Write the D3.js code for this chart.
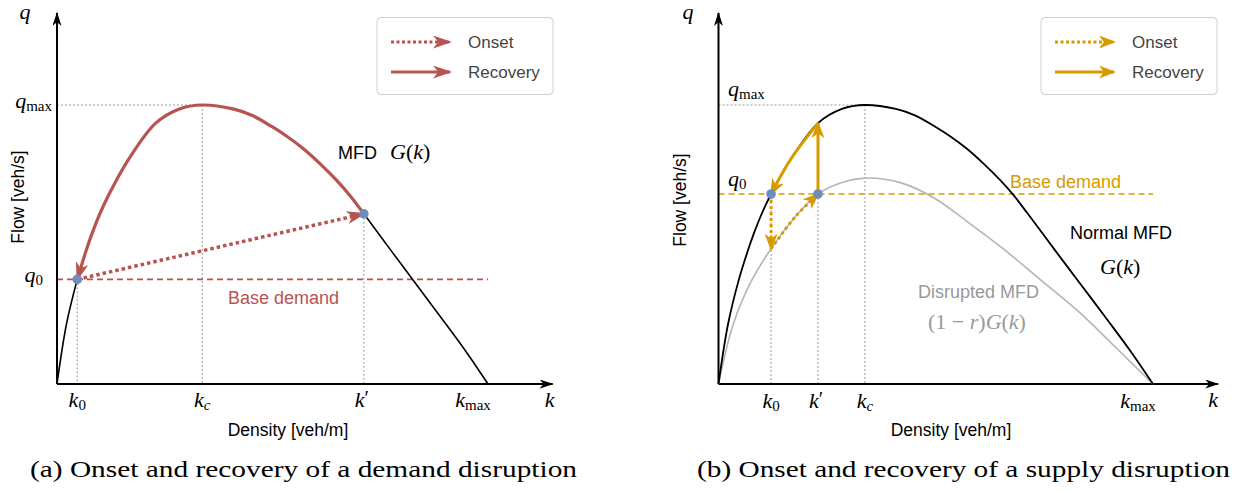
<!DOCTYPE html>
<html>
<head>
<meta charset="utf-8">
<script src="https://cdn.jsdelivr.net/npm/d3@7"></script>
<style>
  body { margin: 0; background: #fff; }
  svg { display: block; }
</style>
</head>
<body>
<svg id="chart" width="1235" height="491"></svg>
<script>
// MFD G(k). k: 0..100 (100 = kmax), q: 0..100 (100 = qmax)
var mfdK = [0, 2.2, 4.7, 6.8, 8.1, 10, 12.1, 16.6, 22.9, 28.4, 33.7, 40.8, 45.2, 49.8, 53.3, 57.1, 61, 65, 68, 71.2, 77.9, 82.6, 89.4, 95, 100];
var mfdQ = [0, 21.5, 37.5, 48, 53.8, 61.2, 68.1, 80.5, 93.5, 98.6, 100, 98.6, 96.3, 92.3, 88.8, 84.4, 79, 72.8, 67.5, 61, 47, 37.3, 23.2, 11.4, 0];

// disrupted MFD (1-r)G(k), right panel
var disK = [0, 3.3, 7.25, 12.1, 17.6, 22.9, 28.4, 33.7, 42.2, 49.8, 57, 65.5, 74, 83.2, 91.5, 100];
var disQ = [0, 21, 36, 48.5, 59.8, 68.1, 72.2, 73.8, 72, 66.5, 58.5, 48.5, 37.5, 25.5, 13, 0];

// points marked on the k axis
var kcVal = 33.7;
var demandK0 = 4.7, demandKp = 71.2, demandQ0 = 37.5;   // panel (a)
var supplyK0 = 12.1, supplyKp = 22.9, supplyQ0 = 68.1;   // panel (b)

var legendItems = ['Onset', 'Recovery'];
var captions = ['(a) Onset and recovery of a demand disruption', '(b) Onset and recovery of a supply disruption'];

var red = '#b85450', orange = '#d79b00', blue = '#6c8ebf', guide = '#9a9a9a';
var sans = '"Liberation Sans", Arial, sans-serif';
var serif = '"Liberation Serif", "Times New Roman", serif';

var mfd = d3.zip(mfdK, mfdQ);
var dis = d3.zip(disK, disQ);
function qAt(arr, k) { return arr.find(function(d) { return d[0] === k; })[1]; }

var svg = d3.select('#chart');
var defs = svg.append('defs');

function addMarker(id, color, len, wid, back) {
    defs.append('marker')
        .attr('id', id)
        .attr('markerUnits', 'userSpaceOnUse')
        .attr('viewBox', '0 0 ' + len + ' ' + wid)
        .attr('markerWidth', len).attr('markerHeight', wid)
        .attr('refX', len - back).attr('refY', wid / 2)
        .attr('orient', 'auto-start-reverse')
        .append('path')
        .attr('d', 'M0,0L' + len + ',' + wid / 2 + 'L0,' + wid + 'L' + len * 0.28 + ',' + wid / 2 + 'Z')
        .attr('fill', color);
}
addMarker('axisHead', '#000', 14, 9, 1);
addMarker('redHead', red, 19, 13, 2);
addMarker('orangeHead', orange, 17, 13, 2);

// shared q scale
var y = d3.scaleLinear().domain([0, 100]).range([384, 105]);
var qEnd = 133, kEnd = 115;

// rich text: parts = [[text, 'i' | 'r']]
function mathText(g, x, yy, parts, size, anchor, color) {
    var t = g.append('text')
        .attr('x', x).attr('y', yy)
        .attr('font-family', serif)
        .attr('font-size', size)
        .attr('fill', color || '#000')
        .attr('text-anchor', anchor || 'start');
    parts.forEach(function(p) {
        var s = t.append('tspan').text(p[0]);
        if (p[1] === 'i') s.attr('font-style', 'italic');
    });
    return t;
}
// symbol with optional subscript; italic subscript when subItalic
function sub(g, x, yy, base, s, anchor, subItalic) {
    var t = g.append('text')
        .attr('x', x).attr('y', yy)
        .attr('font-family', serif)
        .attr('font-size', 22)
        .attr('text-anchor', anchor || 'middle');
    t.append('tspan').attr('font-style', 'italic').text(base);
    if (s) t.append('tspan').attr('font-size', 15).attr('dy', 3)
        .attr('font-style', subItalic ? 'italic' : null).text(s);
    return t;
}

function drawPanel(g, x, k0, kp, q0, qp, color, head, legendX, legendLineX) {
    var line = d3.line()
        .x(function(d) { return x(d[0]); })
        .y(function(d) { return y(d[1]); });
    var curve = d3.line()
        .x(function(d) { return x(d[0]); })
        .y(function(d) { return y(d[1]); })
        .curve(d3.curveCatmullRom.alpha(0.5));

    // dotted guides
    var guides = [
        [[0, 100], [kcVal, 100]],
        [[kcVal, 100], [kcVal, 0]],
        [[k0, q0], [k0, 0]],
        [[kp, qp], [kp, 0]]
    ];
    g.selectAll('.guide').data(guides).enter().append('path')
        .attr('class', 'guide')
        .attr('d', line)
        .attr('fill', 'none')
        .attr('stroke', guide)
        .attr('stroke-width', 1)
        .attr('stroke-dasharray', '2,2');

    // base demand
    g.append('path')
        .attr('d', line([[0, q0], [100, q0]]))
        .attr('stroke', color)
        .attr('stroke-width', 1.6)
        .attr('stroke-dasharray', '6,4')
        .attr('fill', 'none');

    // axes
    g.append('path')
        .attr('d', line([[0, 0], [kEnd, 0]]))
        .attr('stroke', '#000').attr('stroke-width', 2)
        .attr('marker-end', 'url(#axisHead)');
    g.append('path')
        .attr('d', line([[0, 0], [0, qEnd]]))
        .attr('stroke', '#000').attr('stroke-width', 2)
        .attr('marker-end', 'url(#axisHead)');

    // legend
    var lg = g.append('g');
    lg.append('rect')
        .attr('x', legendX).attr('y', 17.5)
        .attr('width', 176).attr('height', 77)
        .attr('rx', 4)
        .attr('fill', '#fff')
        .attr('stroke', '#cfcfcf');
    legendItems.forEach(function(name, i) {
        var ly = 42 + i * 30;
        lg.append('line')
            .attr('x1', legendLineX).attr('x2', legendLineX + 59)
            .attr('y1', ly).attr('y2', ly)
            .attr('stroke', color)
            .attr('stroke-width', 3)
            .attr('stroke-dasharray', i === 0 ? '3,2.5' : null)
            .attr('marker-end', 'url(#' + head + ')');
        lg.append('text')
            .attr('x', legendLineX + 77).attr('y', ly + 6)
            .attr('font-family', sans)
            .attr('font-size', 17)
            .attr('fill', '#444')
            .text(name);
    });

    return { line: line, curve: curve };
}

// ---------- panel (a): demand disruption ----------
var xA = d3.scaleLinear().domain([0, 100]).range([57, 488]);
var gA = svg.append('g');
var qpA = qAt(mfd, demandKp);
var pa = drawPanel(gA, xA, demandK0, demandKp, demandQ0, qpA, red, 'redHead', 377, 391);

// black MFD outside the red part
gA.append('path')
    .attr('d', pa.curve(mfd.filter(function(d) { return d[0] <= demandK0; })))
    .attr('fill', 'none').attr('stroke', '#000').attr('stroke-width', 1.6);
gA.append('path')
    .attr('d', pa.curve(mfd.filter(function(d) { return d[0] >= demandKp; })))
    .attr('fill', 'none').attr('stroke', '#000').attr('stroke-width', 1.6);

// recovery: back along the MFD to k0
gA.append('path')
    .attr('d', pa.curve(mfd.filter(function(d) { return d[0] >= demandK0 && d[0] <= demandKp; })))
    .attr('fill', 'none')
    .attr('stroke', red)
    .attr('stroke-width', 3.2)
    .attr('marker-start', 'url(#redHead)');

// onset: straight jump to k'
gA.append('path')
    .attr('d', pa.line([[demandK0, demandQ0], [demandKp, qpA]]))
    .attr('fill', 'none')
    .attr('stroke', red)
    .attr('stroke-width', 3.5)
    .attr('stroke-dasharray', '3.5,3')
    .attr('marker-end', 'url(#redHead)');

gA.selectAll('.dot').data([[demandK0, demandQ0], [demandKp, qpA]]).enter().append('circle')
    .attr('cx', function(d) { return xA(d[0]); })
    .attr('cy', function(d) { return y(d[1]); })
    .attr('r', 4.8)
    .attr('fill', blue);

// labels (a)
sub(gA, xA(demandK0), 407, 'k', '0');
sub(gA, xA(kcVal), 407, 'k', 'c', 'middle', true);
sub(gA, xA(demandKp) - 2, 407, 'k', null).append('tspan').attr('font-size', 20).attr('dy', -2).text('\u2032');
sub(gA, xA(100) - 15, 407, 'k', 'max');
sub(gA, xA(kEnd) - 3, 407, 'k', null);
sub(gA, 52, y(100) + 3, 'q', 'max', 'end');
sub(gA, 43, y(demandQ0) + 3, 'q', '0', 'end');
sub(gA, 25, 19, 'q', null);

gA.append('text')
    .attr('x', 18).attr('y', 197)
    .attr('transform', 'rotate(-90,18,197)')
    .attr('text-anchor', 'middle')
    .attr('dy', 6)
    .attr('font-family', sans).attr('font-size', 17.5)
    .text('Flow [veh/s]');
gA.append('text')
    .attr('x', 288).attr('y', 436)
    .attr('text-anchor', 'middle')
    .attr('font-family', sans).attr('font-size', 17.5)
    .text('Density [veh/m]');
gA.append('text')
    .attr('x', 228).attr('y', 304)
    .attr('font-family', sans).attr('font-size', 18)
    .attr('fill', red)
    .text('Base demand');
gA.append('text')
    .attr('x', 338).attr('y', 159)
    .attr('font-family', sans).attr('font-size', 18)
    .text('MFD');
mathText(gA, 390, 159, [['G', 'i'], ['(', 'r'], ['k', 'i'], [')', 'r']], 22);

// ---------- panel (b): supply disruption ----------
var xB = d3.scaleLinear().domain([0, 100]).range([718.5, 1153]);
var gB = svg.append('g');
var qpB = qAt(mfd, supplyKp);
var qdB = qAt(dis, supplyK0);
var pb = drawPanel(gB, xB, supplyK0, supplyKp, supplyQ0, supplyQ0, orange, 'orangeHead', 1041, 1055);

gB.append('path')
    .attr('d', pb.curve(dis))
    .attr('fill', 'none').attr('stroke', '#b5b5b5').attr('stroke-width', 1.6);
gB.append('path')
    .attr('d', pb.curve(mfd))
    .attr('fill', 'none').attr('stroke', '#000').attr('stroke-width', 1.8);

// onset: drop onto the disrupted MFD, then slide to k'
gB.append('path')
    .attr('d', pb.line([[supplyK0, supplyQ0], [supplyK0, qdB]]))
    .attr('fill', 'none').attr('stroke', orange)
    .attr('stroke-width', 3).attr('stroke-dasharray', '3,3')
    .attr('marker-end', 'url(#orangeHead)');
gB.append('path')
    .attr('d', pb.curve(dis.filter(function(d) { return d[0] >= supplyK0 && d[0] <= supplyKp; })))
    .attr('fill', 'none').attr('stroke', orange)
    .attr('stroke-width', 3).attr('stroke-dasharray', '3,3')
    .attr('marker-end', 'url(#orangeHead)');

// recovery: jump up to the normal MFD, then back along it to k0
gB.append('path')
    .attr('d', pb.line([[supplyKp, supplyQ0], [supplyKp, qpB]]))
    .attr('fill', 'none').attr('stroke', orange)
    .attr('stroke-width', 3)
    .attr('marker-end', 'url(#orangeHead)');
gB.append('path')
    .attr('d', pb.curve(mfd.filter(function(d) { return d[0] >= supplyK0 && d[0] <= supplyKp; })))
    .attr('fill', 'none').attr('stroke', orange)
    .attr('stroke-width', 3)
    .attr('marker-start', 'url(#orangeHead)');

gB.selectAll('.dot').data([[supplyK0, supplyQ0], [supplyKp, supplyQ0]]).enter().append('circle')
    .attr('cx', function(d) { return xB(d[0]); })
    .attr('cy', function(d) { return y(d[1]); })
    .attr('r', 4.8)
    .attr('fill', blue);

// labels (b)
sub(gB, xB(supplyK0), 408, 'k', '0');
sub(gB, xB(supplyKp) - 2, 408, 'k', null).append('tspan').attr('font-size', 20).attr('dy', -2).text('\u2032');
sub(gB, xB(kcVal), 408, 'k', 'c', 'middle', true);
sub(gB, xB(100) - 15, 408, 'k', 'max');
sub(gB, xB(kEnd) - 5, 407, 'k', null);
sub(gB, 728, y(100) - 9, 'q', 'max', 'start');
sub(gB, 728, y(supplyQ0) - 8, 'q', '0', 'start');
sub(gB, 688, 19, 'q', null);

gB.append('text')
    .attr('x', 680).attr('y', 200)
    .attr('transform', 'rotate(-90,680,200)')
    .attr('text-anchor', 'middle')
    .attr('dy', 6)
    .attr('font-family', sans).attr('font-size', 17.5)
    .text('Flow [veh/s]');
gB.append('text')
    .attr('x', 951).attr('y', 436)
    .attr('text-anchor', 'middle')
    .attr('font-family', sans).attr('font-size', 17.5)
    .text('Density [veh/m]');
gB.append('text')
    .attr('x', 1010).attr('y', 188)
    .attr('font-family', sans).attr('font-size', 18)
    .attr('fill', orange)
    .text('Base demand');
gB.append('text')
    .attr('x', 1070).attr('y', 239)
    .attr('font-family', sans).attr('font-size', 18)
    .text('Normal MFD');
mathText(gB, 1100, 274, [['G', 'i'], ['(', 'r'], ['k', 'i'], [')', 'r']], 22);
gB.append('text')
    .attr('x', 918).attr('y', 298)
    .attr('font-family', sans).attr('font-size', 18)
    .attr('fill', '#999')
    .text('Disrupted MFD');
mathText(gB, 928, 329, [['(1 \u2212 ', 'r'], ['r', 'i'], [')', 'r'], ['G', 'i'], ['(', 'r'], ['k', 'i'], [')', 'r']], 22, 'start', '#999');

// captions
var capX = [[30, 547], [697, 533]];
captions.forEach(function(c, i) {
    svg.append('text')
        .attr('x', capX[i][0]).attr('y', 477)
        .attr('font-family', serif)
        .attr('font-size', 23)
        .attr('textLength', capX[i][1])
        .attr('lengthAdjust', 'spacingAndGlyphs')
        .text(c);
});
</script>
</body>
</html>
